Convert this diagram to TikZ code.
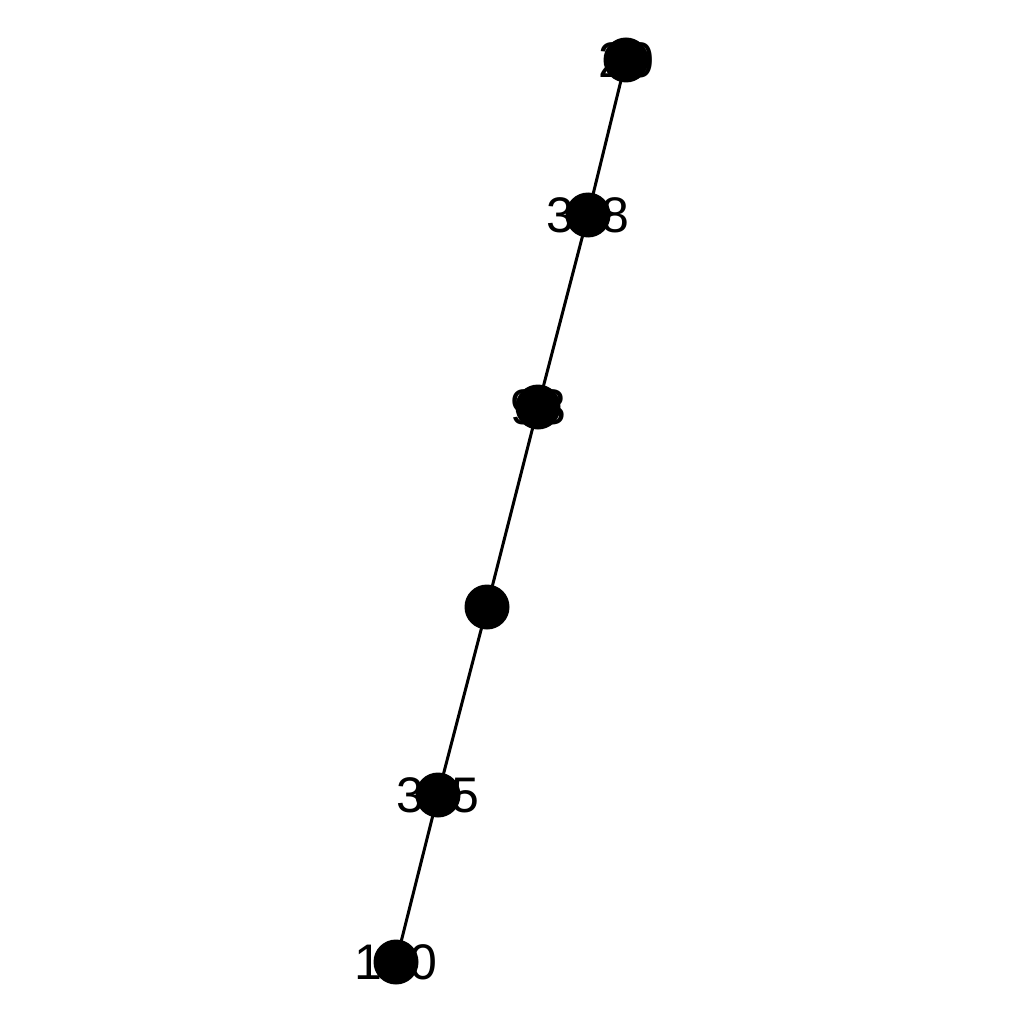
\documentclass[tikz,border=0pt]{standalone}
\usepackage{fontspec}
\setmainfont{Liberation Sans}
\begin{document}
\begin{tikzpicture}[x=1pt,y=-1pt,
  dot/.style={circle,fill=black,draw=none,minimum size=45pt,inner sep=0pt},
  lbl/.style={font=\fontsize{50}{50}\selectfont,text=black,inner sep=0pt},
  edge/.style={draw=black,line width=3pt}]
\useasboundingbox (0,0) rectangle (1024,1024);
\coordinate (c1) at (626,60);
\coordinate (c2) at (588,215);
\coordinate (c3) at (538,407);
\coordinate (c4) at (487,607);
\coordinate (c5) at (438,795);
\coordinate (c6) at (396,962);
\draw[edge] (c1) -- (c2) -- (c3) -- (c4) -- (c5) -- (c6);
\node[lbl] (t1) at (c1) {20};
\node[lbl] (t2) at (c2) {308};
\node[lbl] (t3) at (c3) {93};
\node[lbl] (t5) at (c5) {305};
\node[lbl] (t6) at (c6) {100};
\node[dot] (n1) at (c1) {};
\node[dot] (n2) at (c2) {};
\node[dot] (n3) at (c3) {};
\node[dot] (n4) at (c4) {};
\node[dot] (n5) at (c5) {};
\node[dot] (n6) at (c6) {};
\end{tikzpicture}
\end{document}
